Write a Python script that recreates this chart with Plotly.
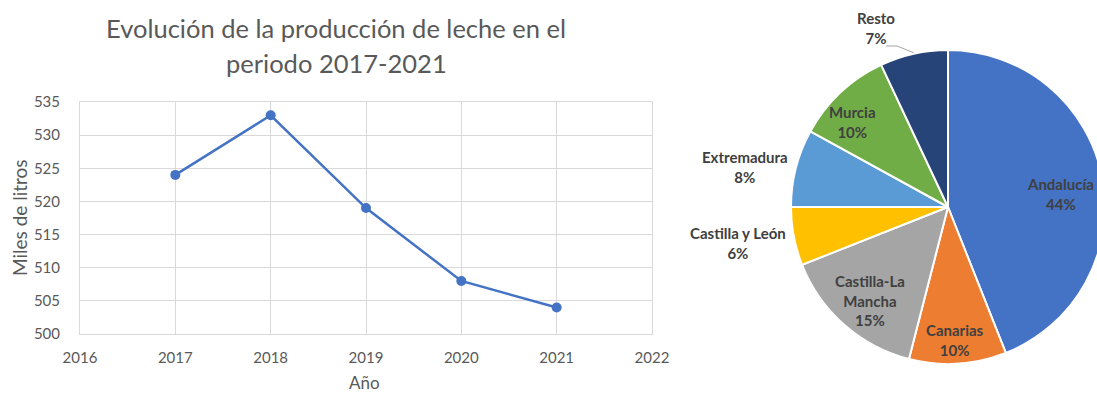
import math
import plotly.graph_objects as go

# Producción de leche (miles de litros)
years = [2017, 2018, 2019, 2020, 2021]
production = [524, 533, 519, 508, 504]

# Reparto por comunidad (%)
regions = ["Andalucía", "Canarias", "Castilla-La<br>Mancha", "Castilla y León",
           "Extremadura", "Murcia", "Resto"]
shares = [44, 10, 15, 6, 8, 10, 7]
colors = ["#4472C4", "#ED7D31", "#A5A5A5", "#FFC000", "#5B9BD5", "#70AD47", "#264478"]

W, H = 1105, 393
TXT = "#595959"
LBL = "#404040"
FONT = "Lato"

fig = go.Figure()

fig.add_trace(go.Scatter(
    x=years, y=production, mode="lines+markers",
    line=dict(color="#4472C4", width=2.5),
    marker=dict(color="#4472C4", size=10),
    showlegend=False, hoverinfo="x+y",
))

# pie geometry (pixels)
cx, cy, r = 948, 207, 157
fig.add_trace(go.Pie(
    labels=regions, values=shares, sort=False, direction="clockwise", rotation=0,
    marker=dict(colors=colors, line=dict(color="white", width=2)),
    textinfo="none", showlegend=False,
    domain=dict(x=[(cx - r) / W, (cx + r) / W], y=[(H - cy - r) / H, (H - cy + r) / H]),
))

grid = "#D9D9D9"
fig.update_xaxes(
    range=[2016, 2022], dtick=1, domain=[80 / W, 652 / W], automargin=False,
    showgrid=True, gridcolor=grid, gridwidth=1, zeroline=False,
    showline=True, linecolor=grid, mirror=True,
    tickfont=dict(family=FONT, size=15, color=TXT), ticklabelstandoff=10,
)
fig.update_yaxes(
    range=[500, 535], dtick=5, domain=[(H - 334) / H, (H - 102) / H], automargin=False,
    showgrid=True, gridcolor=grid, gridwidth=1, zeroline=False,
    showline=True, linecolor=grid, mirror=True,
    tickfont=dict(family=FONT, size=15, color=TXT), ticklabelstandoff=16,
)

annotations = [
    dict(text="Evolución de la producción de leche en el", x=336 / W, y=1 - 28 / H, size=25.5),
    dict(text="periodo 2017-2021", x=336 / W, y=1 - 63 / H, size=25.5),
    dict(text="Año", x=364 / W, y=1 - 382 / H, size=17),
    dict(text="Miles de litros", x=20 / W, y=1 - 218 / H, size=19, textangle=-90),
]
for a in annotations:
    a.update(xref="paper", yref="paper", showarrow=False, xanchor="center", yanchor="middle",
             font=dict(family=FONT, size=a.pop("size"), color=TXT))

# slice label positions (pixels)
label_pos = {
    "Andalucía": (1060, 194),
    "Canarias": (955, 340),
    "Castilla-La<br>Mancha": (870, 300),
    "Castilla y León": (738, 243),
    "Extremadura": (745, 167),
    "Murcia": (852, 122),
    "Resto": (876, 28),
}
for name, val in zip(regions, shares):
    px, py = label_pos[name]
    annotations.append(dict(
        text=f"<b>{name}<br>{val}%</b>", x=px / W, y=1 - py / H,
        xref="paper", yref="paper", showarrow=False, xanchor="center", yanchor="middle",
        font=dict(family=FONT, size=15, color=LBL), align="center",
    ))

# leader line for the "Resto" slice
cum = sum(shares[:-1]) + shares[-1] / 2
ang = math.radians(cum / sum(shares) * 360)
ex, ey = cx + r * math.sin(ang), cy - r * math.cos(ang)
shapes = [dict(
    type="path", xref="paper", yref="paper",
    path=f"M {886 / W},{1 - 46 / H} L {897 / W},{1 - 46 / H} L {ex / W},{1 - (ey - 1) / H}",
    line=dict(color="#A6A6A6", width=1),
)]

fig.update_layout(
    width=W, height=H, autosize=False,
    margin=dict(l=0, r=0, t=0, b=0),
    paper_bgcolor="white", plot_bgcolor="white",
    annotations=annotations, shapes=shapes,
)

fig.write_html(
    "out.html",
    post_script="document.body.style.margin='0';document.body.style.overflow='hidden';"
                "document.documentElement.style.overflow='hidden';",
)
